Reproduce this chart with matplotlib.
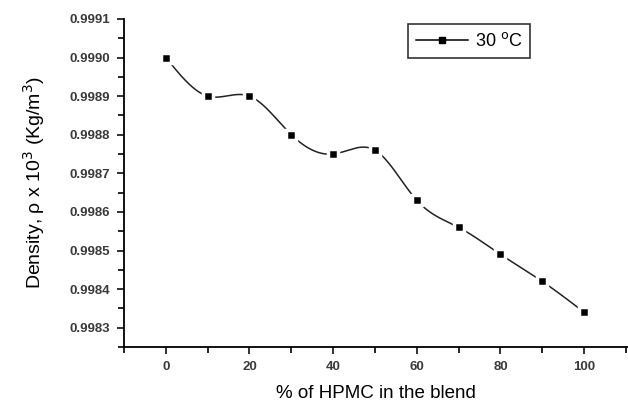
import numpy as np
import matplotlib
matplotlib.use("Agg")
import matplotlib.pyplot as plt
from matplotlib.lines import Line2D
from matplotlib.ticker import MultipleLocator, FormatStrFormatter

# data
hpmc = [0, 10, 20, 30, 40, 50, 60, 70, 80, 90, 100]
density = [0.99900, 0.99890, 0.99890, 0.99880, 0.99875, 0.99876,
           0.99863, 0.99856, 0.99849, 0.99842, 0.99834]
series_label = "30 $^{\\rm o}$C"


def spline_curve(x, y, n=400):
    # natural cubic spline, only used for the smooth connecting line
    x = np.asarray(x, float)
    y = np.asarray(y, float)
    h = np.diff(x)
    m = len(x)
    A = np.zeros((m, m))
    b = np.zeros(m)
    A[0, 0] = A[-1, -1] = 1
    for i in range(1, m - 1):
        A[i, i - 1] = h[i - 1]
        A[i, i] = 2 * (h[i - 1] + h[i])
        A[i, i + 1] = h[i]
        b[i] = 6 * ((y[i + 1] - y[i]) / h[i] - (y[i] - y[i - 1]) / h[i - 1])
    M = np.linalg.solve(A, b)
    xs = np.linspace(x[0], x[-1], n)
    idx = np.clip(np.searchsorted(x, xs) - 1, 0, m - 2)
    x0, x1 = x[idx], x[idx + 1]
    hh = x1 - x0
    t0 = x1 - xs
    t1 = xs - x0
    ys = (M[idx] * t0**3 / (6 * hh) + M[idx + 1] * t1**3 / (6 * hh)
          + (y[idx] / hh - M[idx] * hh / 6) * t0
          + (y[idx + 1] / hh - M[idx + 1] * hh / 6) * t1)
    return xs, ys


plt.rcParams['font.family'] = ['Liberation Sans', 'DejaVu Sans']

fig = plt.figure(figsize=(6.28, 4.03), dpi=100)
ax = fig.add_axes([0.1975, 0.139, 0.8025, 0.814])

xs, ys = spline_curve(hpmc, density)
ax.plot(xs, ys, color="#222222", lw=1.1, zorder=2)
ax.plot(hpmc, density, ls="none", marker="s", ms=7.5, mfc="black",
        mec="white", mew=2.5, zorder=3)

ax.set_xlim(-10, 110.5)
ax.set_ylim(0.99825, 0.9991)
ax.xaxis.set_major_locator(MultipleLocator(20))
ax.xaxis.set_minor_locator(MultipleLocator(10))
ax.yaxis.set_major_locator(MultipleLocator(0.0001))
ax.yaxis.set_minor_locator(MultipleLocator(0.00005))
ax.yaxis.set_major_formatter(FormatStrFormatter("%.4f"))

for s in ["top", "right"]:
    ax.spines[s].set_visible(False)
for s in ["left", "bottom"]:
    ax.spines[s].set_linewidth(1.3)

ax.tick_params(which="major", direction="out", length=5, width=1.2,
               labelsize=9.5, pad=5, colors="#111111")
ax.tick_params(which="minor", direction="out", length=4, width=1.2)
for lab in ax.get_xticklabels() + ax.get_yticklabels():
    lab.set_fontweight("bold")
    lab.set_color("#3a3a3a")

ax.set_xlabel("% of HPMC in the blend", fontsize=13.5, labelpad=9)
ax.set_ylabel("Density, \u03c1 x 10$^{\\rm 3}$ (Kg/m$^{\\rm 3}$)", fontsize=14,
              labelpad=16)

proxy = Line2D([], [], color="black", lw=1.1, marker="s", ms=5)
leg = ax.legend([proxy], [series_label], loc="upper left",
                bbox_to_anchor=(0.563, 0.985), fontsize=13, frameon=True,
                fancybox=False, handlelength=2.9, handletextpad=0.35,
                borderpad=0.45, borderaxespad=0)
leg.get_frame().set_edgecolor("black")
leg.get_frame().set_linewidth(1.2)

fig.savefig("out.png", dpi=100)
